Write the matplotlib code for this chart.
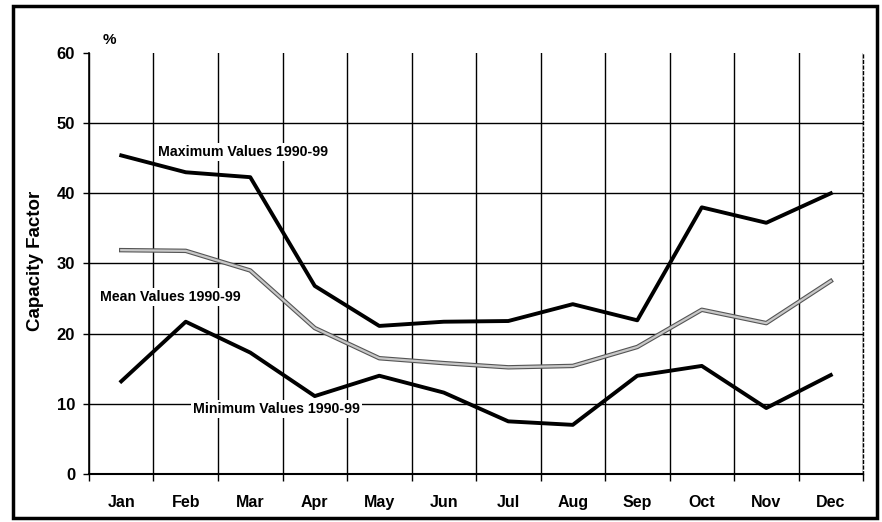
import matplotlib.pyplot as plt
import matplotlib.patheffects as pe
from matplotlib.patches import Rectangle
import numpy as np

months = ['Jan', 'Feb', 'Mar', 'Apr', 'May', 'Jun',
          'Jul', 'Aug', 'Sep', 'Oct', 'Nov', 'Dec']
max_values = [45.4, 43.0, 42.3, 26.8, 21.1, 21.7, 21.8, 24.2, 21.9, 38.0, 35.8, 40.0]
mean_values = [31.9, 31.8, 29.0, 20.8, 16.5, 15.8, 15.2, 15.4, 18.1, 23.4, 21.5, 27.5]
min_values = [13.2, 21.7, 17.3, 11.1, 14.0, 11.6, 7.5, 7.0, 14.0, 15.4, 9.4, 14.1]
yticks = [0, 10, 20, 30, 40, 50, 60]

plt.rcParams['font.family'] = ['Liberation Sans', 'DejaVu Sans']
plt.rcParams['font.weight'] = 'bold'

fig = plt.figure(figsize=(8.82, 5.22), dpi=100)
ax = fig.add_axes([0.1009, 0.092, 0.8776, 0.8065])

x = np.arange(len(months))

ax.plot(x, max_values, color='black', lw=2.8, zorder=3)
ax.plot(x, mean_values, color='#c8c8c8', lw=1.6, zorder=3,
        path_effects=[pe.Stroke(linewidth=3.2, foreground='#555555'), pe.Normal()])
ax.plot(x, min_values, color='black', lw=2.8, zorder=3)

ax.set_xlim(-0.5, 11.5)
ax.set_ylim(0, 60)
ax.set_xticks(x)
ax.set_xticklabels(months, fontsize=11.5, fontweight='bold')
ax.set_xticks(np.arange(-0.5, 12, 1), minor=True)
ax.tick_params(axis='x', which='major', length=0, pad=15)
ax.tick_params(axis='x', which='minor', length=5, width=1, direction='out')
ax.set_yticks(yticks)
ax.set_yticklabels([str(v) for v in yticks], fontsize=12, fontweight='bold')
ax.tick_params(axis='y', length=4, width=1, direction='out', pad=6)

ax.grid(axis='x', which='minor', color='black', lw=1.0)
for v in yticks[1:-1]:
    ax.axhline(v, color='black', lw=1.0, zorder=1)

ax.spines['top'].set_visible(False)
ax.spines['right'].set_linestyle((0, (2, 2)))
ax.spines['right'].set_linewidth(1.0)
ax.spines['left'].set_linewidth(1.2)
ax.spines['bottom'].set_linewidth(1.5)

ax.set_ylabel('Capacity Factor', fontsize=13.5, fontweight='bold')
ax.yaxis.set_label_coords(-0.058, 0.506)

box = dict(facecolor='white', edgecolor='none', pad=1.5)
ax.text(0.57, 45.9, 'Maximum Values 1990-99', fontsize=10.2, fontweight='bold',
        va='center', ha='left', bbox=box, zorder=4)
ax.text(-0.33, 25.2, 'Mean Values 1990-99', fontsize=10.2, fontweight='bold',
        va='center', ha='left', bbox=box, zorder=4)
ax.text(1.12, 9.3, 'Minimum Values 1990-99', fontsize=10.2, fontweight='bold',
        va='center', ha='left', bbox=box, zorder=4)

fig.text(103 / 882, 1 - 40 / 522, '%', fontsize=11, fontweight='bold',
         ha='left', va='center')

fig.patches.append(Rectangle((13 / 882, 4 / 522), 864 / 882, 512 / 522,
                             transform=fig.transFigure, fill=False,
                             edgecolor='black', lw=2.5))

fig.savefig('out.png', dpi=100)
